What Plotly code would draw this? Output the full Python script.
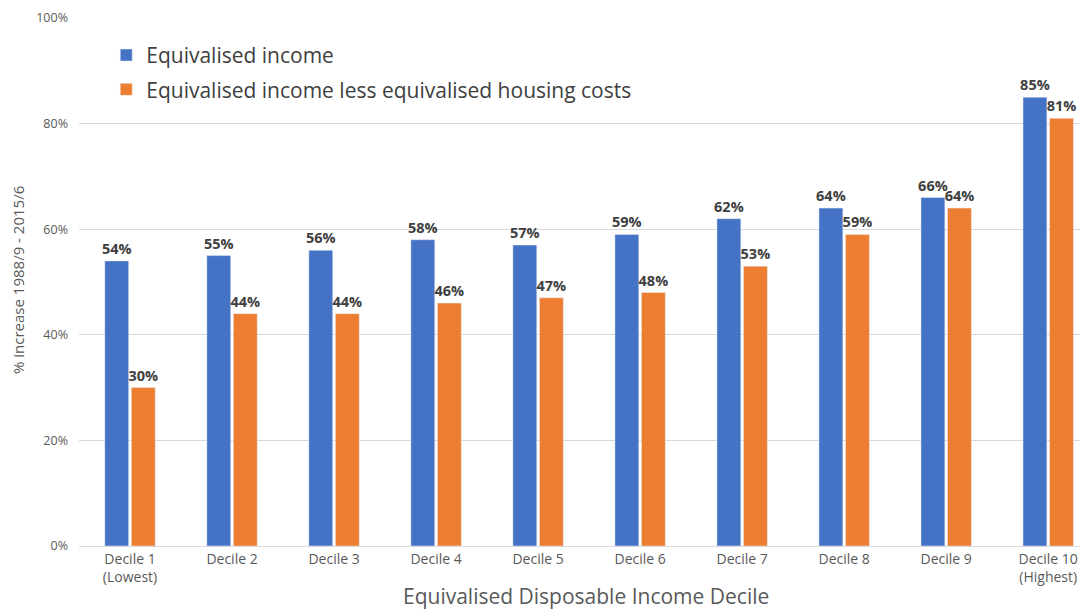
import plotly.graph_objects as go

categories = ["Decile 1<br>(Lowest)", "Decile 2", "Decile 3", "Decile 4", "Decile 5",
              "Decile 6", "Decile 7", "Decile 8", "Decile 9", "Decile 10<br>(Highest)"]
income = [54, 55, 56, 58, 57, 59, 62, 64, 66, 85]
income_less_housing = [30, 44, 44, 46, 47, 48, 53, 59, 64, 81]
series_names = ["Equivalised income", "Equivalised income less equivalised housing costs"]
y_ticks = [0, 20, 40, 60, 80, 100]
y_tick_labels = ["0%", "20%", "40%", "60%", "80%", "100%"]

FONT = "Open Sans"
# page is offset by the browser's 8px body margin; margins compensate for it
L, T, R, B = 71, 10, 8, 71
PW, PH = 1088 - L - R, 609 - T - B

fig = go.Figure()
for i, (name, vals, col) in enumerate([(series_names[0], income, "#4472C4"),
                                       (series_names[1], income_less_housing, "#ED7D31")]):
    fig.add_trace(go.Bar(
        x=categories, y=vals, name=name, marker_color=col, legendgroup=f"g{i}",
        text=[f"{v}%" for v in vals], textposition="outside", constraintext="none",
        textfont=dict(family=FONT, size=14.5, color="#404040", weight="bold"),
        cliponaxis=False,
    ))

fig.add_annotation(text="Equivalised Disposable Income Decile", xref="paper", yref="paper",
                   x=(586 - 79) / PW, y=-(596 - 546) / PH, xanchor="center", yanchor="middle",
                   showarrow=False, font=dict(size=21, color="#595959", family=FONT))
fig.add_annotation(text="% increase 1988/9 - 2015/6", xref="paper", yref="paper",
                   x=-(79 - 18) / PW, y=(546 - 280) / PH, xanchor="center", yanchor="middle",
                   textangle=-90, showarrow=False,
                   font=dict(size=15, color="#595959", family=FONT))

fig.update_layout(
    width=1088, height=609,
    margin=dict(l=L, r=R, t=T, b=B),
    paper_bgcolor="white", plot_bgcolor="white",
    barmode="group", bargap=0.48, bargroupgap=0.1,
    font=dict(family=FONT, color="#595959"),
    showlegend=True,
    legend=dict(x=0.027, y=0.968, xanchor="left", yanchor="top", tracegroupgap=4,
                font=dict(size=21, color="#404040", family=FONT),
                bgcolor="rgba(0,0,0,0)"),
    xaxis=dict(range=[-0.5, 9.39], showgrid=False, showline=True, linecolor="#d9d9d9",
               tickfont=dict(size=14, color="#595959"), ticks="", automargin=False),
    yaxis=dict(range=[0, 100], tickvals=y_ticks, ticktext=y_tick_labels, showgrid=True,
               gridcolor="#d9d9d9", zeroline=False, automargin=False, ticklabelstandoff=10,
               tickfont=dict(size=12.5, color="#595959")),
)
fig.write_html("out.html")
